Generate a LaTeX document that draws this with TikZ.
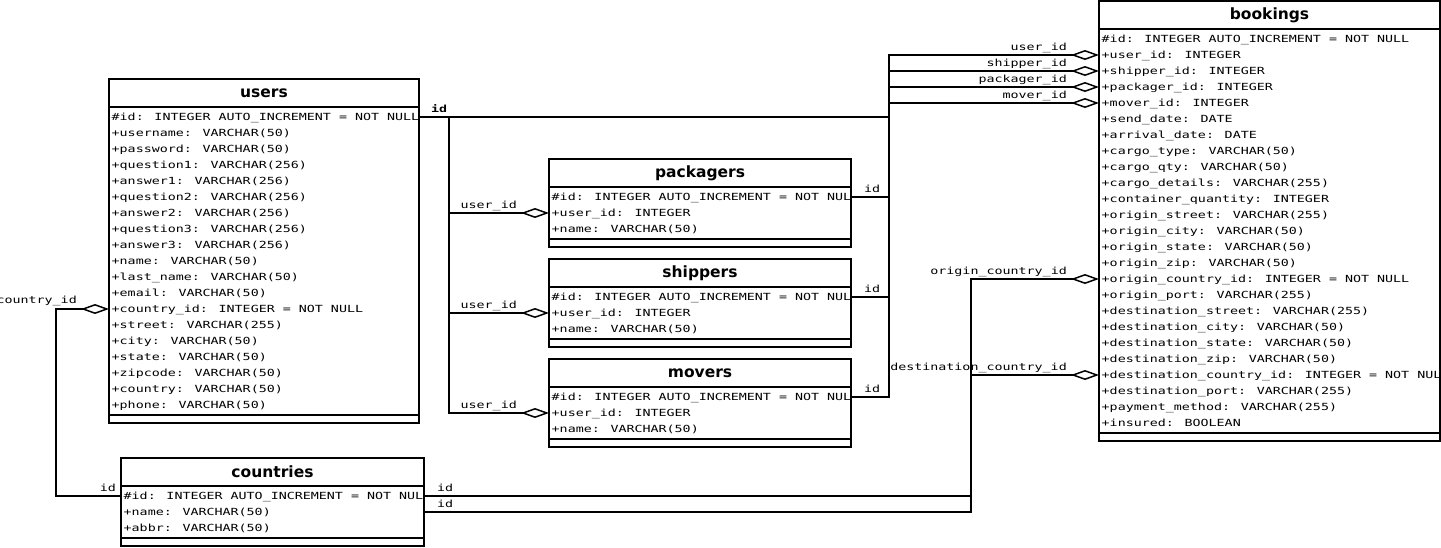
\documentclass[tikz,border=0pt]{standalone}
\usepackage{fontspec}
\usetikzlibrary{arrows.meta,calc}
\newfontfamily\rowfont[FakeStretch=1.36]{DejaVu Sans Mono}
\newfontfamily\ttlfont{DejaVu Sans}
\tikzset{
  tabline/.style={draw=black, line width=1.5pt},
  titletext/.style={font=\ttlfont\bfseries\fontsize{15.5}{18}\selectfont, inner sep=0},
  rowtext/.style={font=\rowfont\fontsize{9.8}{16}\selectfont, inner sep=0, anchor=base west},
  conn/.style={draw=black, line width=1.5pt},
  agg/.style={conn, -{Diamond[open, length=28pt, width=10pt]}},
  elabel/.style={font=\rowfont\fontsize{9.8}{12}\selectfont, inner sep=0},
}
\newcommand\ertab[7]{%
  \node[anchor=north west, minimum width=#4pt, minimum height={(40+16*#5)*1pt}, inner sep=0, outer sep=0] (#1) at (#2,#3) {};
  \begin{scope}
    \clip (#1.north west) rectangle (#1.south east);
    \node[titletext] (#1-title) at ([yshift=-14pt]#1.north) {#6};
    \foreach \rowtxt [count=\i from 0] in {#7} {
      \coordinate (#1-L\i) at ([yshift={-(38+16*\i)*1pt}]#1.north west);
      \coordinate (#1-R\i) at ([yshift={-(38+16*\i)*1pt}]#1.north east);
      \node[rowtext] (#1-row\i) at ([xshift=2.5pt, yshift={-(41.5+16*\i)*1pt}]#1.north west) {\rowtxt};
    }
  \end{scope}
  \draw[tabline] (#1.north west) rectangle (#1.south east);
  \draw[tabline] ([yshift=-28pt]#1.north west) -- ([yshift=-28pt]#1.north east);
  \draw[tabline] ([yshift=8pt]#1.south west) -- ([yshift=8pt]#1.south east);
}
\begin{document}
\begin{tikzpicture}[x=1pt, y=-1pt]
\useasboundingbox (0,0) rectangle (1441,547);

\ertab{users}{109}{79}{310}{19}{users}{%
\#id: INTEGER AUTO\_INCREMENT = NOT NULL,
+username: VARCHAR(50),
+password: VARCHAR(50),
+question1: VARCHAR(256),
+answer1: VARCHAR(256),
+question2: VARCHAR(256),
+answer2: VARCHAR(256),
+question3: VARCHAR(256),
+answer3: VARCHAR(256),
+name: VARCHAR(50),
+last\_name: VARCHAR(50),
+email: VARCHAR(50),
+country\_id: INTEGER = NOT NULL,
+street: VARCHAR(255),
+city: VARCHAR(50),
+state: VARCHAR(50),
+zipcode: VARCHAR(50),
+country: VARCHAR(50),
+phone: VARCHAR(50)}

\ertab{packagers}{549}{159}{302}{3}{packagers}{%
\#id: INTEGER AUTO\_INCREMENT = NOT NULL,
+user\_id: INTEGER,
+name: VARCHAR(50)}

\ertab{shippers}{549}{259}{302}{3}{shippers}{%
\#id: INTEGER AUTO\_INCREMENT = NOT NULL,
+user\_id: INTEGER,
+name: VARCHAR(50)}

\ertab{movers}{549}{359}{302}{3}{movers}{%
\#id: INTEGER AUTO\_INCREMENT = NOT NULL,
+user\_id: INTEGER,
+name: VARCHAR(50)}

\ertab{countries}{121}{458}{303}{3}{countries}{%
\#id: INTEGER AUTO\_INCREMENT = NOT NULL,
+name: VARCHAR(50),
+abbr: VARCHAR(50)}

\ertab{bookings}{1099}{1}{341}{25}{bookings}{%
\#id: INTEGER AUTO\_INCREMENT = NOT NULL,
+user\_id: INTEGER,
+shipper\_id: INTEGER,
+packager\_id: INTEGER,
+mover\_id: INTEGER,
+send\_date: DATE,
+arrival\_date: DATE,
+cargo\_type: VARCHAR(50),
+cargo\_qty: VARCHAR(50),
+cargo\_details: VARCHAR(255),
+container\_quantity: INTEGER,
+origin\_street: VARCHAR(255),
+origin\_city: VARCHAR(50),
+origin\_state: VARCHAR(50),
+origin\_zip: VARCHAR(50),
+origin\_country\_id: INTEGER = NOT NULL,
+origin\_port: VARCHAR(255),
+destination\_street: VARCHAR(255),
+destination\_city: VARCHAR(50),
+destination\_state: VARCHAR(50),
+destination\_zip: VARCHAR(50),
+destination\_country\_id: INTEGER = NOT NULL,
+destination\_port: VARCHAR(255),
+payment\_method: VARCHAR(255),
+insured: BOOLEAN}

% connectors
\draw[agg] (users-R0) -- ++(30,0) |- (packagers-L1);
\draw[agg] (users-R0) -- ++(30,0) |- (shippers-L1);
\draw[agg] (users-R0) -- ++(30,0) |- (movers-L1);
\draw[agg] (users-R0) -- ++(470,0) |- (bookings-L1);
\draw[agg] (packagers-R0) -- ++(38,0) |- (bookings-L3);
\draw[agg] (shippers-R0) -- ++(38,0) |- (bookings-L2);
\draw[agg] (movers-R0) -- ++(38,0) |- (bookings-L4);
\draw[agg] (countries-L0) -- ++(-65,0) |- (users-L12);
\draw[agg] (countries-R0) -- ++(547,0) |- (bookings-L15);
\draw[agg] (countries-R1) -- ++(547,0) |- (bookings-L21);

% labels
\node[elabel, anchor=base west] (lb-uid) at ([xshift=12pt, yshift=5pt]users-R0) {\bfseries id};
\node[elabel, anchor=base east] (lb-pu) at ([xshift=-32pt, yshift=4.5pt]packagers-L1) {user\_id};
\node[elabel, anchor=base east] (lb-su) at ([xshift=-32pt, yshift=4.5pt]shippers-L1) {user\_id};
\node[elabel, anchor=base east] (lb-mu) at ([xshift=-32pt, yshift=4.5pt]movers-L1) {user\_id};
\node[elabel, anchor=base west] (lb-pid) at ([xshift=13pt, yshift=5pt]packagers-R0) {id};
\node[elabel, anchor=base west] (lb-sid) at ([xshift=13pt, yshift=5pt]shippers-R0) {id};
\node[elabel, anchor=base west] (lb-mid) at ([xshift=13pt, yshift=5pt]movers-R0) {id};
\node[elabel, anchor=base east] (lb-bu) at ([xshift=-32pt, yshift=4.5pt]bookings-L1) {user\_id};
\node[elabel, anchor=base east] (lb-bs) at ([xshift=-32pt, yshift=4.5pt]bookings-L2) {shipper\_id};
\node[elabel, anchor=base east] (lb-bp) at ([xshift=-32pt, yshift=4.5pt]bookings-L3) {packager\_id};
\node[elabel, anchor=base east] (lb-bm) at ([xshift=-32pt, yshift=4.5pt]bookings-L4) {mover\_id};
\node[elabel, anchor=base east] (lb-boc) at ([xshift=-32pt, yshift=4.5pt]bookings-L15) {origin\_country\_id};
\node[elabel, anchor=base east] (lb-bdc) at ([xshift=-32pt, yshift=4.5pt]bookings-L21) {destination\_country\_id};
\node[elabel, anchor=base east] (lb-ucid) at ([xshift=-32pt, yshift=5.5pt]users-L12) {country\_id};
\node[elabel, anchor=base east] (lb-cl) at ([xshift=-5pt, yshift=5pt]countries-L0) {id};
\node[elabel, anchor=base west] (lb-cr0) at ([xshift=13pt, yshift=5pt]countries-R0) {id};
\node[elabel, anchor=base west] (lb-cr1) at ([xshift=13pt, yshift=5pt]countries-R1) {id};
\end{tikzpicture}
\end{document}
